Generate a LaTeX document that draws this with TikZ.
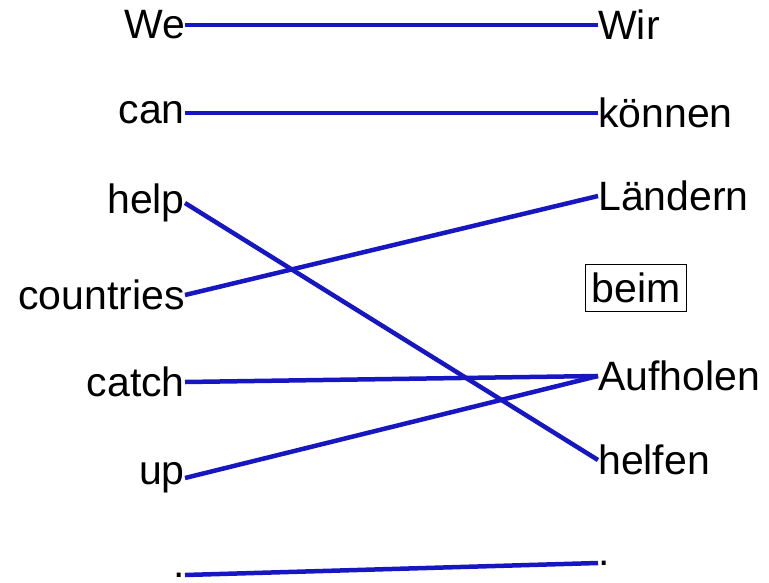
\documentclass[tikz,border=0pt]{standalone}
\usepackage{fontspec}
\setmainfont{Liberation Sans}
\usetikzlibrary{positioning}
\definecolor{linkblue}{RGB}{22,22,195}
\tikzstyle{srcword} = [anchor=east, inner sep=0pt, font=\fontsize{41}{49}\selectfont]
\tikzstyle{tgtword} = [anchor=west, inner sep=0pt, font=\fontsize{41}{49}\selectfont]
\tikzstyle{boxword} = [draw=black, line width=1.5pt, minimum width=101pt, minimum height=47pt,
                       inner sep=0pt, font=\fontsize{41}{49}\selectfont]
\tikzstyle{link}    = [draw=linkblue, line width=4.5pt]
\begin{document}
\begin{tikzpicture}[x=1pt, y=-1pt]
    \useasboundingbox (0,0) rectangle (769,582);
    % English side
    \node (we) [srcword] at (185,25) {We};
    \node (can) [srcword] at (185,113) {can};
    \node (help) [srcword] at (185,203) {help};
    \node (countries) [srcword] at (185,295) {countries};
    \node (catch) [srcword] at (185,382) {catch};
    \node (up) [srcword] at (185,478) {up};
    \node (dotsrc) [srcword] at (185,575) {.};
    % German side
    \node (wir) [tgtword] at (598,25) {Wir};
    \node (koennen) [tgtword] at (598,113) {können};
    \node (laendern) [tgtword] at (598,196) {Ländern};
    \node (beim) [boxword] at (636,288) {beim};
    \node (aufholen) [tgtword] at (598,376) {Aufholen};
    \node (helfen) [tgtword] at (598,460) {helfen};
    \node (dottgt) [tgtword] at (598,563) {.};

    \draw[link] (we.east) -- (wir.west);
    \draw[link] (can.east) -- (koennen.west);
    \draw[link] (help.east) -- (helfen.west);
    \draw[link] (countries.east) -- (laendern.west);
    \draw[link] (catch.east) -- (aufholen.west);
    \draw[link] (up.east) -- (aufholen.west);
    \draw[link] (dotsrc.east) -- (dottgt.west);
\end{tikzpicture}
\end{document}
